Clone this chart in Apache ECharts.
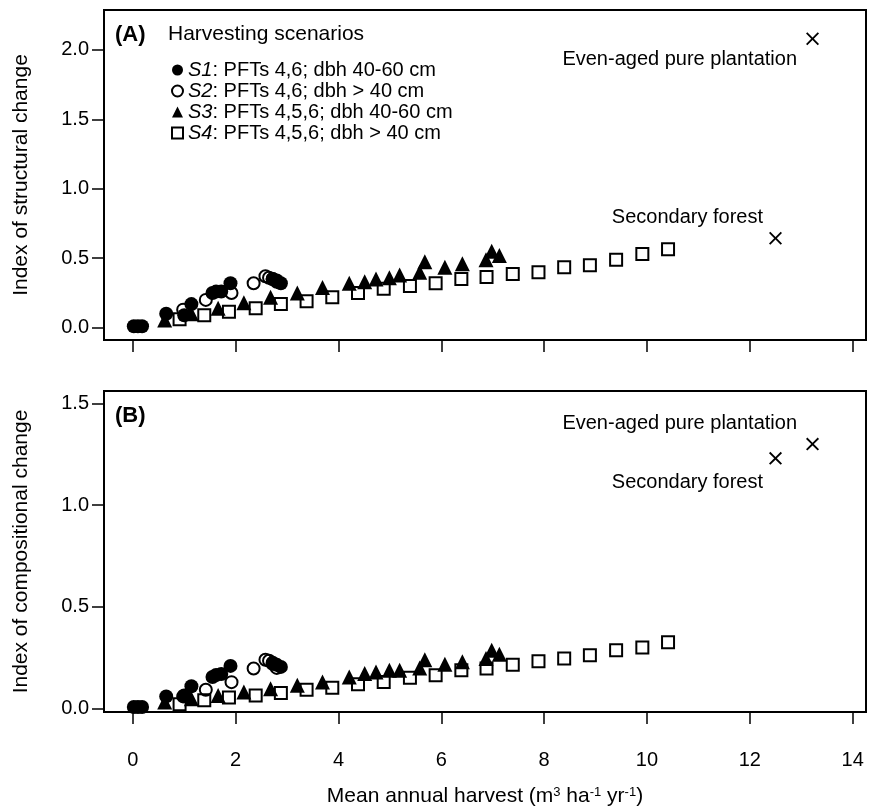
<!DOCTYPE html>
<html>
<head>
<meta charset="utf-8">
<script src="https://cdn.jsdelivr.net/npm/echarts@6/dist/echarts.min.js"></script>
<style>
html,body{margin:0;padding:0;background:#fff;}
#main{width:874px;height:810px;}
</style>
</head>
<body>
<div id="main"></div>
<script>
// tick labels
var xTicks = [0, 2, 4, 6, 8, 10, 12, 14];
var yTicksA = [0, 0.5, 1, 1.5, 2];
var yTicksB = [0, 0.5, 1, 1.5];

// harvest (x) per scenario
var s1X = [0.02, 0.1, 0.18, 0.65, 1.0, 1.14, 1.55, 1.62, 1.72, 1.9, 2.72, 2.8, 2.88];
var s2X = [0.98, 1.42, 1.92, 2.35, 2.58, 2.65, 2.72, 2.8];
var s3X = [0.62, 1.14, 1.66, 2.16, 2.68, 3.2, 3.69, 4.21, 4.51, 4.73, 4.99, 5.19, 5.58, 5.68, 6.07, 6.41, 6.87, 6.98, 7.13];
var s4X = [0.91, 1.39, 1.87, 2.39, 2.88, 3.38, 3.88, 4.38, 4.88, 5.39, 5.89, 6.39, 6.88, 7.39, 7.89, 8.39, 8.89, 9.4, 9.91, 10.41];

// (A) structural change
var s1A = [0.01, 0.01, 0.01, 0.10, 0.09, 0.17, 0.25, 0.26, 0.26, 0.32, 0.35, 0.34, 0.32];
var s2A = [0.13, 0.20, 0.25, 0.32, 0.37, 0.36, 0.35, 0.33];
var s3A = [0.055, 0.10, 0.14, 0.18, 0.22, 0.25, 0.29, 0.32, 0.33, 0.35, 0.36, 0.38, 0.40, 0.475, 0.435, 0.46, 0.49, 0.55, 0.52];
var s4A = [0.06, 0.09, 0.115, 0.14, 0.17, 0.19, 0.22, 0.25, 0.28, 0.30, 0.32, 0.35, 0.365, 0.386, 0.40, 0.435, 0.45, 0.49, 0.53, 0.565];

// (B) compositional change
var s1B = [0.008, 0.008, 0.008, 0.06, 0.065, 0.11, 0.155, 0.165, 0.17, 0.21, 0.22, 0.215, 0.205];
var s2B = [0.06, 0.093, 0.13, 0.197, 0.24, 0.235, 0.225, 0.20];
var s3B = [0.033, 0.049, 0.065, 0.082, 0.098, 0.115, 0.131, 0.155, 0.172, 0.18, 0.188, 0.188, 0.2, 0.24, 0.218, 0.23, 0.246, 0.287, 0.267];
var s4B = [0.021, 0.041, 0.054, 0.065, 0.077, 0.093, 0.103, 0.12, 0.131, 0.152, 0.164, 0.188, 0.197, 0.216, 0.233, 0.246, 0.262, 0.287, 0.30, 0.326];

// reference forests: plantation, secondary
var refNames = ['Even-aged pure plantation', 'Secondary forest'];
var refX = [13.22, 12.5];
var refA = [2.08, 0.644];
var refB = [1.30, 1.23];

var scenNames = ['S1', 'S2', 'S3', 'S4'];
var scenText = ['PFTs 4,6; dbh 40-60 cm', 'PFTs 4,6; dbh > 40 cm', 'PFTs 4,5,6; dbh 40-60 cm', 'PFTs 4,5,6; dbh > 40 cm'];

var FONT = 'Liberation Sans';
var crossPath = 'path://M0,1 L1,0 L5,4 L9,0 L10,1 L6,5 L10,9 L9,10 L5,6 L1,10 L0,9 L4,5 Z';

function zip(xs, ys) {
    return xs.map(function (x, i) { return [x, ys[i]]; });
}

function scen(name, xs, ys, gi, symbol, size, filled) {
    return {
        name: name,
        type: 'scatter',
        xAxisIndex: gi,
        yAxisIndex: gi,
        symbol: symbol,
        symbolSize: size,
        itemStyle: filled ? {color: '#000', opacity: 1} : {color: 'rgba(0,0,0,0)', borderColor: '#000', borderWidth: 2, opacity: 1},
        data: zip(xs, ys)
    };
}

function refSeries(gi, ys, labelCfg) {
    return {
        name: 'ref',
        type: 'scatter',
        xAxisIndex: gi,
        yAxisIndex: gi,
        symbol: crossPath,
        symbolSize: 13,
        itemStyle: {color: '#000', opacity: 1},
        data: refX.map(function (x, i) {
            return {
                value: [x, ys[i]],
                label: {
                    show: true,
                    formatter: refNames[i],
                    position: 'left',
                    distance: labelCfg[i][0],
                    offset: [0, labelCfg[i][1]],
                    fontSize: 20,
                    fontFamily: FONT,
                    color: '#000'
                }
            };
        })
    };
}

function xAx(gi, labels) {
    var ax = {
        gridIndex: gi,
        type: 'value',
        min: -0.56,
        max: 14.26,
        splitLine: {show: false},
        axisLine: {show: false, onZero: false},
        axisTick: {show: true, length: 12, customValues: xTicks, lineStyle: {color: '#000', width: 1.5}},
        axisLabel: {show: labels, customValues: xTicks, margin: 38, fontSize: 20, fontFamily: FONT, color: '#000'}
    };
    if (labels) {
        ax.name = 'Mean annual harvest (m{s|3} ha{s|-1} yr{s|-1})';
        ax.nameLocation = 'middle';
        ax.nameGap = 74;
        ax.nameTextStyle = {
            fontSize: 21, fontFamily: FONT, color: '#000',
            rich: {s: {fontSize: 13, fontFamily: FONT, color: '#000', verticalAlign: 'top'}}
        };
    }
    return ax;
}

function yAx(gi, mn, mx, ticks, name) {
    return {
        gridIndex: gi,
        type: 'value',
        min: mn,
        max: mx,
        splitLine: {show: false},
        axisLine: {show: false, onZero: false},
        axisTick: {show: true, length: 12, customValues: ticks, lineStyle: {color: '#000', width: 1.5}},
        axisLabel: {customValues: ticks, margin: 15, fontSize: 20, fontFamily: FONT, color: '#000',
            formatter: function (v) { return v.toFixed(1); }},
        name: name,
        nameLocation: 'middle',
        nameGap: 72,
        nameTextStyle: {fontSize: 21, fontFamily: FONT, color: '#000'}
    };
}

var chart = echarts.init(document.getElementById('main'));
var option = {
    animation: false,
    backgroundColor: '#fff',
    textStyle: {fontFamily: FONT},
    title: [
        {text: '(A)', left: 115, top: 24, padding: 0, textStyle: {fontSize: 22, fontWeight: 'bold', fontFamily: FONT, color: '#000'}},
        {text: 'Harvesting scenarios', left: 168, top: 24, padding: 0, textStyle: {fontSize: 21, fontWeight: 'normal', fontFamily: FONT, color: '#000'}},
        {text: '(B)', left: 115, top: 405, padding: 0, textStyle: {fontSize: 22, fontWeight: 'bold', fontFamily: FONT, color: '#000'}}
    ],
    legend: {
        data: scenNames,
        orient: 'vertical',
        left: 171,
        top: 60,
        padding: 0,
        itemWidth: 11,
        itemHeight: 11,
        itemGap: 1,
        formatter: function (n) {
            return '{i|' + n + '}: ' + scenText[scenNames.indexOf(n)];
        },
        textStyle: {
            fontSize: 20, fontFamily: FONT, color: '#000',
            rich: {i: {fontSize: 20, fontStyle: 'italic', fontFamily: FONT, color: '#000'}}
        }
    },
    grid: [
        {left: 104, right: 8, top: 10, height: 330, show: true, borderColor: '#000', borderWidth: 2},
        {left: 104, right: 8, top: 391, height: 321, show: true, borderColor: '#000', borderWidth: 2}
    ],
    xAxis: [xAx(0, false), xAx(1, true)],
    yAxis: [
        yAx(0, -0.0886, 2.287, yTicksA, 'Index of structural change'),
        yAx(1, -0.0167, 1.561, yTicksB, 'Index of compositional change')
    ],
    series: [
        scen('S1', s1X, s1A, 0, 'circle', 14, true),
        scen('S2', s2X, s2A, 0, 'circle', 12, false),
        scen('S3', s3X, s3A, 0, 'triangle', 15, true),
        scen('S4', s4X, s4A, 0, 'rect', 12, false),
        refSeries(0, refA, [[9, 21], [6, -21]]),
        scen('S1', s1X, s1B, 1, 'circle', 14, true),
        scen('S2', s2X, s2B, 1, 'circle', 12, false),
        scen('S3', s3X, s3B, 1, 'triangle', 15, true),
        scen('S4', s4X, s4B, 1, 'rect', 12, false),
        refSeries(1, refB, [[9, -21], [6, 24]])
    ]
};
chart.setOption(option);
</script>
</body>
</html>
